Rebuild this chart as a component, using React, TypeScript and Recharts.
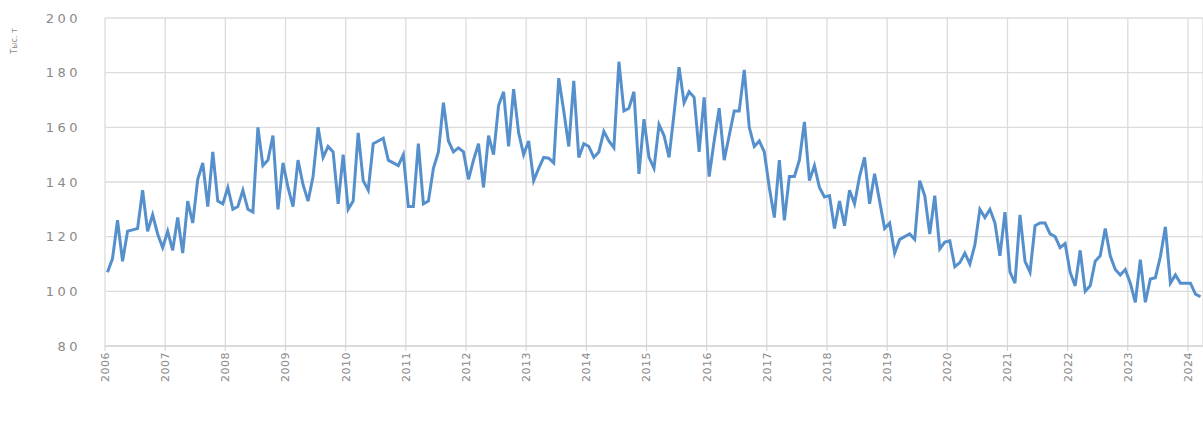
import React from 'react';
import { LineChart, Line, XAxis, YAxis, CartesianGrid } from 'recharts';

// monthly values, thousand tonnes
const v2006 = [107, 112, 126, 111, 122, 122.5, 123, 137, 122, 128, 121, 116];
const v2007 = [122, 115, 127, 114, 133, 125, 141, 147, 131, 151, 133, 132];
const v2008 = [138, 130, 131, 137, 130, 129, 160, 146, 148, 157, 130, 147];
const v2009 = [138, 131, 148, 139, 133, 142, 160, 149, 153, 151, 132, 150];
const v2010 = [130, 133, 158, 140.5, 137, 154, 155, 156, 148, 147, 146, 150];
const v2011 = [131, 131, 154, 132, 133, 145, 151, 169, 155, 151, 152.5, 151];
const v2012 = [141, 148, 154, 138, 157, 150, 168, 173, 153, 174, 158, 150];
const v2013 = [155, 140.5, 145, 149, 148.7, 147, 178, 166, 153, 177, 149, 154];
const v2014 = [153, 149, 151, 158.5, 155, 152.5, 184, 166, 167, 173, 143, 163];
const v2015 = [149, 145, 161, 157, 149, 165, 182, 169, 173, 171, 151, 171];
const v2016 = [142, 155, 167, 148, 157, 166, 166, 181, 160, 153, 155, 151];
const v2017 = [138, 127, 148, 126, 142, 142, 148, 162, 140.5, 146, 138, 134.5];
const v2018 = [135, 123, 133, 124, 137, 132, 142, 149, 132, 143, 133, 123];
const v2019 = [125, 114, 119, 120, 121, 119, 140.5, 135, 121, 135, 115.5, 118];
const v2020 = [118.5, 109, 110.5, 114, 110, 117, 130, 127, 130, 125, 113, 129];
const v2021 = [107, 103, 128, 111, 107, 124, 125, 125, 121, 120, 116, 117.5];
const v2022 = [107, 102, 115, 100, 102, 111, 113, 123, 113, 108, 106, 108];
const v2023 = [103, 96, 111.6, 96, 104.5, 105, 112.7, 123.6, 103, 106, 103, 103];
const v2024 = [103, 99, 98];

const years = [2006, 2007, 2008, 2009, 2010, 2011, 2012, 2013, 2014, 2015, 2016, 2017, 2018, 2019, 2020, 2021, 2022, 2023, 2024];
const yTicks = [80, 100, 120, 140, 160, 180, 200];
const monthly = [v2006, v2007, v2008, v2009, v2010, v2011, v2012, v2013, v2014, v2015, v2016, v2017, v2018, v2019, v2020, v2021, v2022, v2023, v2024];

const data = monthly.flatMap((vals, i) =>
  vals.map((v, m) => ({ t: years[i] + (m + 0.5) / 12, value: v }))
);

const FONT = '"DejaVu Sans", sans-serif';

// year labels turned to read bottom to top
const renderYearTick = (props: any) => {
  const { x, y, payload } = props;
  return (
    <g transform={`translate(${x},${y})`}>
      <text
        transform="rotate(-90)"
        x={-1}
        y={4}
        textAnchor="end"
        fill="#8a8a8a"
        fontSize={11}
        fontFamily={FONT}
        letterSpacing={0.5}
      >
        {payload.value}
      </text>
    </g>
  );
};

const App: React.FC = () => {
  return (
    <div style={{ position: 'absolute', left: 0, top: 0, width: 1203, height: 424, background: '#fff' }}>
      <LineChart width={1203} height={424} data={data} margin={{ top: 18, right: 0, bottom: 39, left: 0 }}>
        <CartesianGrid stroke="#dcdcdc" strokeWidth={1.3} vertical horizontal />
        <XAxis
          dataKey="t"
          type="number"
          domain={[2006, 2024.25]}
          ticks={years}
          interval={0}
          allowDataOverflow
          axisLine={{ stroke: '#d0d0d0' }}
          tickLine={{ stroke: '#d0d0d0' }}
          tickSize={5}
          tickMargin={0}
          tick={renderYearTick}
          height={39}
        />
        <YAxis
          type="number"
          domain={[80, 200]}
          ticks={yTicks}
          width={105}
          axisLine={false}
          tickLine={false}
          tickSize={0}
          tickMargin={24}
          tick={{ fill: '#8a8a8a', fontSize: 13, fontFamily: FONT, letterSpacing: 3.5 }}
        />
        <Line
          type="linear"
          dataKey="value"
          stroke="#5590cc"
          strokeWidth={3}
          dot={false}
          isAnimationActive={false}
        />
      </LineChart>
      <div
        style={{
          position: 'absolute',
          left: 14,
          top: 41,
          transform: 'translate(-50%, -50%) rotate(-90deg)',
          fontFamily: FONT,
          fontSize: 8,
          color: '#8a8a8a',
          whiteSpace: 'nowrap',
        }}
      >
        Тыс. т
      </div>
    </div>
  );
};

export default App;
